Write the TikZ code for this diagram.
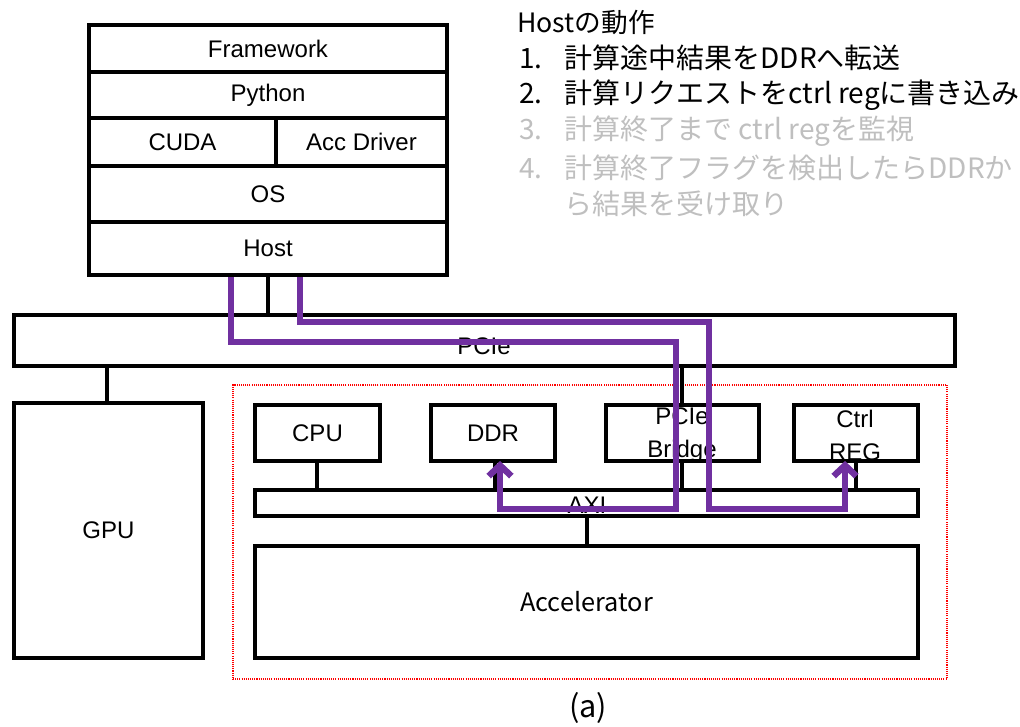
\documentclass[tikz,border=0pt]{standalone}
\usepackage{fontspec}
\setmainfont{Liberation Sans}
\newfontfamily\jp{Noto Sans CJK JP}
\usetikzlibrary{arrows.meta}
\definecolor{purp}{HTML}{7030A0}
\definecolor{lgray}{HTML}{BFBFBF}
% \mybox[style]{name}{x1}{y1}{x2}{y2}{text}
\newcommand\mybox[7][]{\node[box,#1,minimum width={(#5-#3)*0.75pt},minimum height={(#6-#4)*0.75pt}] (#2) at ({(#3+#5)/2},{(#4+#6)/2}) {#7};}
\begin{document}
\begin{tikzpicture}[x=0.75pt,y=-0.75pt,
  box/.style={draw=black, line width=3.4pt, inner sep=0pt, outer sep=0pt, font=\fontsize{18}{21}\selectfont, align=center},
  bigbox/.style={font=\fontsize{18}{24}\selectfont},
  conn/.style={draw=black, line width=3.4pt},
  reddot/.style={draw=red, line width=0.8pt, dash pattern=on 0.8pt off 0.8pt, fill=none},
  purpline/.style={draw=purp, line width=4.8pt, shorten <=1.5pt},
  purparrow/.style={purpline, -{Straight Barb[length=8pt,width=17pt]}},
  jpitem/.style={anchor=west, inner sep=0pt, font=\jp\fontsize{21}{24}\selectfont},
  lbl/.style={inner sep=0pt, font=\fontsize{18}{22}\selectfont},
  twoline/.style={inner sep=0pt, align=center, font=\fontsize{18}{24.75}\selectfont}]
\useasboundingbox (0,0) rectangle (1020,726);

% host stack
\mybox{fw}{89}{25}{447}{72}{Framework}
\mybox{py}{89}{72}{447}{118}{Python}
\mybox{cuda}{89}{118}{276}{166}{CUDA}
\mybox{accdrv}{276}{118}{447}{166}{Acc Driver}
\mybox{os}{89}{166}{447}{222}{OS}
\mybox{host}{89}{222}{447}{275}{Host}

% PCIe bus
\mybox{pcie}{14}{315}{955}{366}{}
\node[lbl] (pcielbl) at (484,346) {PCIe};

% GPU
\mybox[bigbox]{gpu}{14}{403}{203}{658}{GPU}

% accelerator region
\mybox[reddot]{region}{233}{385}{947}{679}{}
\mybox[bigbox]{cpu}{255}{405}{380}{461}{CPU}
\mybox[bigbox]{ddr}{431}{405}{555}{461}{DDR}
\mybox{bridge}{606}{405}{759}{461}{}
\node[twoline] (bridgelbl) at (682,435) {PCIe\\Bridge};
\mybox{ctrl}{794}{405}{918}{461}{}
\node[twoline] (ctrllbl) at (855,435) {Ctrl\\REG};
\mybox{axi}{255}{490}{918}{516}{}
\node[lbl] (axilbl) at (587,505) {AXI};
\mybox[font=\jp\fontsize{19}{22}\selectfont]{accel}{255}{546}{918}{658}{Accelerator}

\node[inner sep=0pt, font=\jp\fontsize{23}{26}\selectfont] (cap) at (588,708) {(a)};

% black connectors
\coordinate (xh) at (268,0);
\coordinate (xg) at (107,0);
\coordinate (xcpu) at (317,0);
\coordinate (xddr) at (495,0);
\coordinate (xbr) at (682,0);
\coordinate (xct) at (856,0);
\coordinate (xacc) at (587,0);
\draw[conn] (host.south -| xh) -- (pcie.north -| xh);
\draw[conn] (pcie.south -| xg) -- (gpu.north -| xg);
\draw[conn] (pcie.south -| xbr) -- (bridge.north -| xbr);
\draw[conn] (cpu.south -| xcpu) -- (axi.north -| xcpu);
\draw[conn] (ddr.south -| xddr) -- (axi.north -| xddr);
\draw[conn] (bridge.south -| xbr) -- (axi.north -| xbr);
\draw[conn] (ctrl.south -| xct) -- (axi.north -| xct);
\draw[conn] (axi.south -| xacc) -- (accel.north -| xacc);

% purple data paths
\coordinate (pa) at (231,0);
\coordinate (pb) at (676,342);
\coordinate (pc) at (500,509);
\draw[purparrow] (host.south -| pa) |- (pb) |- (pc) -- (ddr.south -| pc);
\coordinate (qa) at (300,0);
\coordinate (qb) at (709,322);
\coordinate (qc) at (845,509);
\draw[purparrow] (host.south -| qa) |- (qb) |- (qc) -- (ctrl.south -| qc);

% text block
\node[anchor=west, inner sep=0pt, font=\jp\fontsize{20}{22}\selectfont] (t0) at (517,22) {Hostの動作};
\node[jpitem] (t1) at (519,58) {\makebox[34pt][l]{1.}計算途中結果をDDRへ転送};
\node[jpitem] (t2) at (519,95) {\makebox[34pt][l]{2.}計算リクエストをctrl regに書き込み};
\node[jpitem, text=lgray] (t3) at (519,131) {\makebox[34pt][l]{3.}計算終了まで ctrl regを監視};
\node[jpitem, text=lgray] (t4) at (519,168) {\makebox[34pt][l]{4.}計算終了フラグを検出したらDDRか};
\node[jpitem, text=lgray] (t5) at (519,204) {\makebox[34pt][l]{}ら結果を受け取り};
\end{tikzpicture}
\end{document}
